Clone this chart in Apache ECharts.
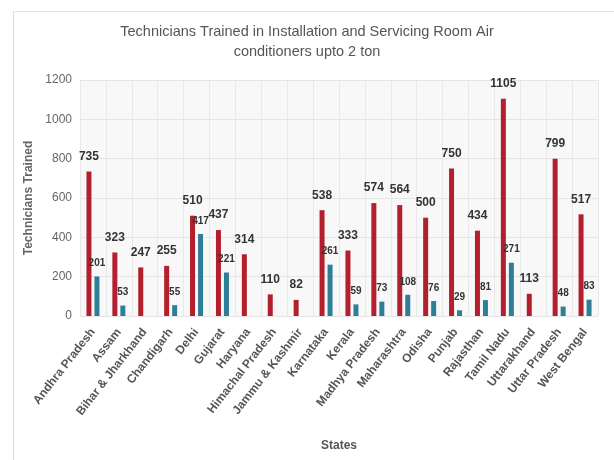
<!DOCTYPE html>
<html><head><meta charset="utf-8">
<script src="https://cdn.jsdelivr.net/npm/echarts@6/dist/echarts.min.js"></script>
<style>
html,body{margin:0;padding:0;background:#fff;}
#frame{position:absolute;left:13px;top:11px;width:600px;height:460px;border-left:1px solid #dcdcdc;border-top:1px solid #e4e4e4;}
#c{position:absolute;left:0;top:0;width:614px;height:460px;}
</style></head>
<body>
<div id="frame"></div>
<div id="c"></div>
<script>
const categories = ["Andhra Pradesh","Assam","Bihar & Jharkhand","Chandigarh","Delhi","Gujarat","Haryana","Himachal Pradesh","Jammu & Kashmir","Karnataka","Kerala","Madhya Pradesh","Maharashtra","Odisha","Punjab","Rajasthan","Tamil Nadu","Uttarakhand","Uttar Pradesh","West Bengal"];
const seriesA = [735,323,247,255,510,437,314,110,82,538,333,574,564,500,750,434,1105,113,799,517];
const seriesB = [201,53,null,55,417,221,null,null,null,261,59,73,108,76,29,81,271,null,48,83];
const yTicks = [0,200,400,600,800,1000,1200];

const chart = echarts.init(document.getElementById('c'), null, {renderer:'canvas'});
const FONT = 'Liberation Sans, Arial, sans-serif';
chart.setOption({
  animation:false,
  textStyle:{fontFamily:FONT},
  title:{
    text:'Technicians Trained in Installation and Servicing Room Air\nconditioners upto 2 ton',
    left:'center', top:17,
    textStyle:{fontSize:14.5, fontWeight:'normal', color:'#555', lineHeight:20, fontFamily:FONT}
  },
  grid:{left:80, right:16, top:80, bottom:144, show:true, backgroundColor:'#f8f8f8', borderWidth:0},
  xAxis:{
    type:'category', data:categories,
    name:'States', nameLocation:'middle', nameGap:124,
    nameTextStyle:{fontSize:12, color:'#555', fontWeight:'bold'},
    axisLine:{show:false}, axisTick:{show:false},
    splitLine:{show:true, lineStyle:{color:'#e8e8e8', width:1}},
    axisLabel:{rotate:52, fontSize:12, color:'#555', margin:14, interval:0, fontWeight:'bold'}
  },
  yAxis:{
    type:'value', min:yTicks[0], max:yTicks[yTicks.length-1], interval:200,
    name:'Technicians Trained', nameLocation:'middle', nameGap:42,
    nameTextStyle:{fontSize:12, color:'#666', fontWeight:'bold'},
    axisLine:{show:false}, axisTick:{show:false},
    splitLine:{show:true, lineStyle:{color:'#e6e6e6'}},
    axisLabel:{fontSize:12, color:'#666', margin:8, formatter:function(v){return String(v);}}
  },
  series:[
    {type:'bar', data:seriesA, barWidth:5, barGap:'60%', barCategoryGap:'50%',
     itemStyle:{color:'#b31f2d'},
     label:{show:true, position:'top', distance:9, fontSize:12, fontWeight:'bold', color:'#333'}},
    {type:'bar', data:seriesB, barWidth:5,
     itemStyle:{color:'#2f7e98'},
     label:{show:true, position:'top', distance:8, fontSize:10, fontWeight:'bold', color:'#333'}}
  ]
});
</script>
</body></html>
